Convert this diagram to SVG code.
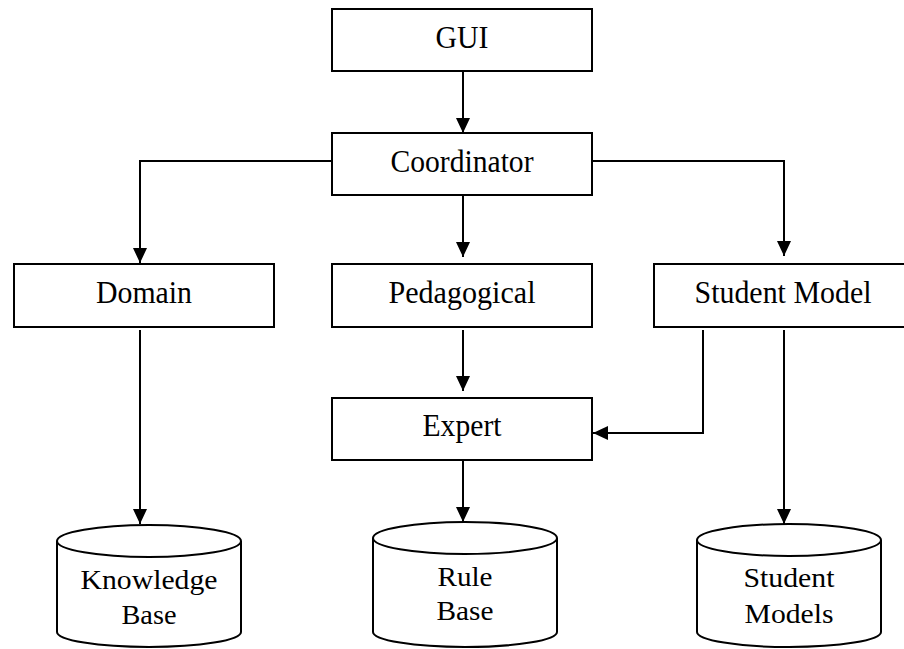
<svg xmlns="http://www.w3.org/2000/svg" width="904" height="649" viewBox="0 0 904 649">
<style>
.box{fill:#fff;stroke:#000;stroke-width:2}
.cyl{fill:#fff;stroke:#000;stroke-width:2}
.t{font-family:"Liberation Serif","Times New Roman",serif;font-size:32px;fill:#000;text-anchor:middle}
.tc{font-family:"Liberation Serif","Times New Roman",serif;font-size:27px;fill:#000;text-anchor:middle}
.ln{fill:none;stroke:#000;stroke-width:2}
</style>
<defs>
<marker id="ah" markerUnits="userSpaceOnUse" markerWidth="16" markerHeight="14" refX="15" refY="7" orient="auto">
<path d="M0,0 L15,7 L0,14 z" fill="#000"/>
</marker>
</defs>
<rect width="904" height="649" fill="#fff"/>
<g id="connectors">
<line class="ln" x1="463" y1="71" x2="463" y2="133" marker-end="url(#ah)"/>
<polyline class="ln" points="332,161 140,161 140,263" marker-end="url(#ah)"/>
<line class="ln" x1="463" y1="195" x2="463" y2="257" marker-end="url(#ah)"/>
<polyline class="ln" points="592,161 784,161 784,256" marker-end="url(#ah)"/>
<line class="ln" x1="463" y1="330" x2="463" y2="391" marker-end="url(#ah)"/>
<polyline class="ln" points="703,330 703,433 593,433" marker-end="url(#ah)"/>
<line class="ln" x1="140" y1="330" x2="140" y2="524" marker-end="url(#ah)"/>
<line class="ln" x1="463" y1="460" x2="463" y2="522" marker-end="url(#ah)"/>
<line class="ln" x1="784" y1="330" x2="784" y2="524" marker-end="url(#ah)"/>
</g>
<g id="gui"><rect class="box" x="332" y="9" width="260" height="62"/><text class="t" x="462" y="48" textLength="53" lengthAdjust="spacingAndGlyphs">GUI</text></g>
<g id="coordinator"><rect class="box" x="332" y="133" width="260" height="62"/><text class="t" x="462" y="172" textLength="143" lengthAdjust="spacingAndGlyphs">Coordinator</text></g>
<g id="domain"><rect class="box" x="14" y="264" width="260" height="63"/><text class="t" x="144" y="303" textLength="96" lengthAdjust="spacingAndGlyphs">Domain</text></g>
<g id="pedagogical"><rect class="box" x="332" y="264" width="260" height="63"/><text class="t" x="462" y="303" textLength="147" lengthAdjust="spacingAndGlyphs">Pedagogical</text></g>
<g id="student-model"><rect class="box" x="654" y="264" width="260" height="63"/><text class="t" x="783" y="303" textLength="177" lengthAdjust="spacingAndGlyphs">Student Model</text></g>
<g id="expert"><rect class="box" x="332" y="398" width="260" height="62"/><text class="t" x="462" y="436" textLength="79" lengthAdjust="spacingAndGlyphs">Expert</text></g>
<g id="knowledge-base">
<path class="cyl" d="M57,541 L57,632 A92,15 0 0 0 241,632 L241,541"/>
<ellipse class="cyl" cx="149" cy="541" rx="92" ry="16"/>
<text class="tc" x="149" y="589" textLength="137" lengthAdjust="spacingAndGlyphs">Knowledge</text><text class="tc" x="149" y="624" textLength="55" lengthAdjust="spacingAndGlyphs">Base</text>
</g>
<g id="rule-base">
<path class="cyl" d="M373,538 L373,632 A92,15 0 0 0 557,632 L557,538"/>
<ellipse class="cyl" cx="465" cy="538" rx="92" ry="16"/>
<text class="tc" x="465" y="586" textLength="55" lengthAdjust="spacingAndGlyphs">Rule</text><text class="tc" x="465" y="620" textLength="57" lengthAdjust="spacingAndGlyphs">Base</text>
</g>
<g id="student-models">
<path class="cyl" d="M697,540 L697,632 A92,15 0 0 0 881,632 L881,540"/>
<ellipse class="cyl" cx="789" cy="540" rx="92" ry="16"/>
<text class="tc" x="789" y="587" textLength="91" lengthAdjust="spacingAndGlyphs">Student</text><text class="tc" x="789" y="623" textLength="89" lengthAdjust="spacingAndGlyphs">Models</text>
</g>
</svg>
